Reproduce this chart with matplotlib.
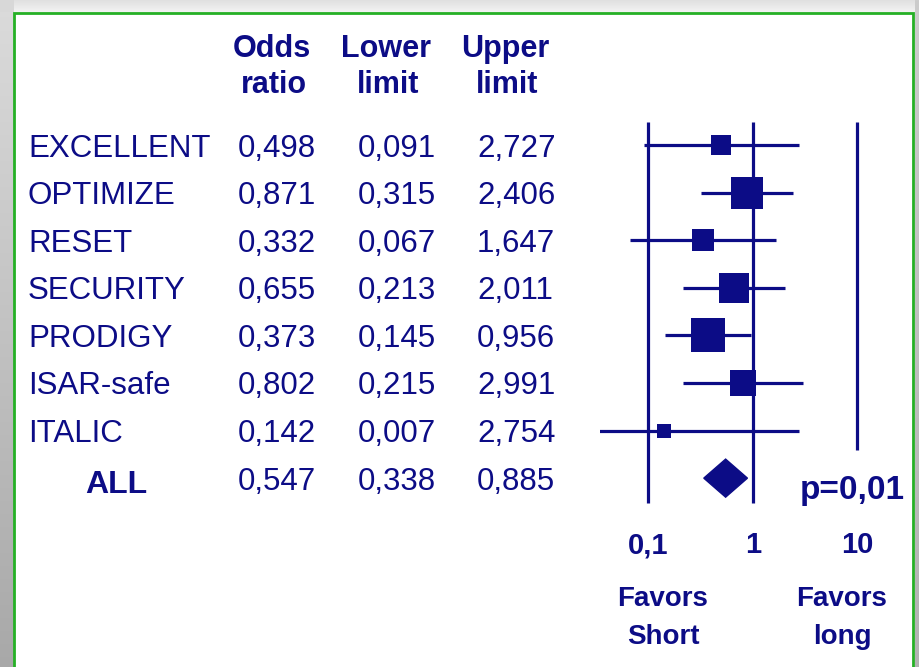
import numpy as np
import matplotlib
matplotlib.use("Agg")
import matplotlib.pyplot as plt
from matplotlib.patches import Rectangle, Polygon
from matplotlib.transforms import blended_transform_factory
from matplotlib.ticker import FixedLocator, FuncFormatter

# study results: odds ratio with 95% limits
studies = ["EXCELLENT", "OPTIMIZE", "RESET", "SECURITY", "PRODIGY", "ISAR-safe", "ITALIC"]
odds = [0.498, 0.871, 0.332, 0.655, 0.373, 0.802, 0.142]
lower = [0.091, 0.315, 0.067, 0.213, 0.145, 0.215, 0.007]
upper = [2.727, 2.406, 1.647, 2.011, 0.956, 2.991, 2.754]
weights = [7.5, 21.3, 10.1, 18.7, 25.4, 13.0, 4.1]   # % weight, box area

pooled_label = "ALL"
pooled = (0.547, 0.338, 0.885)
p_text = "p=0,01"

headers = [("Odds", "ratio"), ("Lower", "limit"), ("Upper", "limit")]
ticks = [0.1, 1, 10]
favors = ["Favors\nShort", "Favors\nlong"]

W, H = 920, 667
navy = "#0c0c86"
green = "#25b025"
sans = ["Liberation Sans", "DejaVu Sans"]

def fmt(v):
    return ("%.3f" % v).replace(".", ",")

fig = plt.figure(figsize=(W / 100, H / 100), dpi=100)

# backdrop: grey drop shadow around a white panel with green frame
bg = fig.add_axes([0, 0, 1, 1])
bg.set_xlim(0, W)
bg.set_ylim(H, 0)
bg.axis("off")
img = np.full((H, W), 0.93)
yy = np.linspace(0, 1, H)[:, None]
img[:, :14] = (0.86 - 0.20 * yy) * np.ones((1, 14))
img[:12, :] = np.linspace(0.88, 0.95, 12)[:, None] * np.ones((1, W))
img[:12, :14] = 0.85
img[:, 915:] = (0.80 - 0.10 * yy) * np.ones((1, W - 915))
bg.imshow(np.dstack([img] * 3), extent=(0, W, H, 0), aspect="auto", zorder=0)
bg.add_patch(Rectangle((14, 12.5), 899, 700, facecolor="white",
                       edgecolor=green, linewidth=2, zorder=1))

# forest plot on a log scale
ax = fig.add_axes([600 / W, 1 - 520 / H, 315 / W, 420 / H])
ax.set_xscale("log")
ax.set_xlim(10 ** ((600 - 753) / 104.5), 10 ** ((915 - 753) / 104.5))
ax.set_ylim(7.88, -0.95)
ax.patch.set_alpha(0)
for s in ax.spines.values():
    s.set_visible(False)
ax.tick_params(axis="y", left=False, labelleft=False)

n = len(studies)
ax.vlines([0.1, 1], -0.48, n + 0.52, color=navy, lw=2.3)
ax.vlines([10], -0.48, n - 0.59, color=navy, lw=2.3)

total_area = 4815.0
for i in range(n):
    ax.hlines(i, lower[i], upper[i], color=navy, lw=2.3)
    side = np.sqrt(weights[i] / 100 * total_area) / 100 * 72
    ax.plot(odds[i], i, marker="s", ms=side, color=navy, mec=navy, mew=0)

o, lo, hi = pooled
ax.add_patch(Polygon([(lo, n), (o, n - 0.4), (hi, n), (o, n + 0.4)],
                     closed=True, facecolor=navy, edgecolor=navy, lw=1))

ax.xaxis.set_major_locator(FixedLocator(ticks))
ax.xaxis.set_minor_locator(FixedLocator([]))
ax.xaxis.set_major_formatter(FuncFormatter(lambda v, _: ("%g" % v).replace(".", ",")))
ax.tick_params(axis="x", length=0, pad=8, labelsize=21, labelcolor=navy)
for lab in ax.get_xticklabels():
    lab.set_fontweight("bold")
    lab.set_family(sans)

# table text; rows share the forest plot's y axis, baseline half a cap below
tr = blended_transform_factory(bg.transData, ax.transData)
base = 0.24
for i, name in enumerate(studies):
    bg.text(28, i + base, name, transform=tr, ha="left", va="baseline",
            fontsize=22.5, color=navy, family=sans, zorder=3)
    for x, v in zip([238, 358, 477], [odds[i], lower[i], upper[i]]):
        bg.text(x, i + base, fmt(v), transform=tr, ha="left", va="baseline",
                fontsize=22.5, color=navy, family=sans, zorder=3)
bg.text(116, n + base + 0.08, pooled_label, transform=tr, ha="center", va="baseline",
        fontsize=23, fontweight="bold", color=navy, family=sans, zorder=3)
for x, v in zip([238, 358, 477], pooled):
    bg.text(x, n + base, fmt(v), transform=tr, ha="left", va="baseline",
            fontsize=22.5, color=navy, family=sans, zorder=3)
bg.text(800, n + base + 0.2, p_text, transform=tr, ha="left", va="baseline",
        fontsize=24, fontweight="bold", color=navy, family=sans, zorder=3)

for x, (a, b) in zip([272, 386, 505], headers):
    bg.text(x, 57, a, ha="center", va="baseline", fontsize=22,
            fontweight="bold", color=navy, family=sans, zorder=3)
    bg.text(x + 2, 93, b, ha="center", va="baseline", fontsize=22,
            fontweight="bold", color=navy, family=sans, zorder=3)

for x, t in zip([663, 842], favors):
    bg.text(x, 618, t, ha="center", va="center", fontsize=20, linespacing=1.55,
            fontweight="bold", color=navy, family=sans, zorder=3)

fig.savefig("out.png", dpi=100)
